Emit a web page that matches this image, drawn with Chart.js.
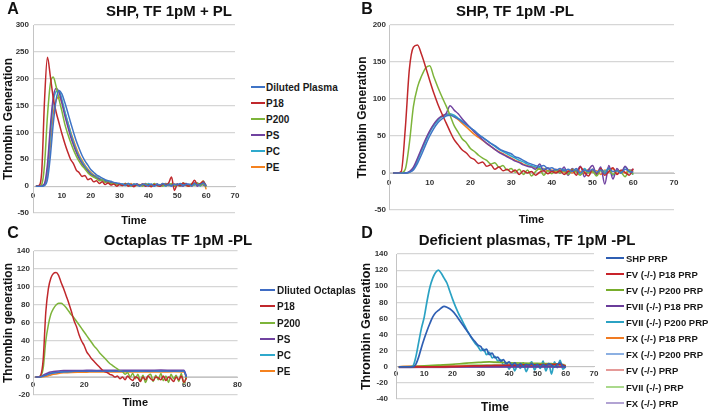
<!DOCTYPE html>
<html>
<head>
<meta charset="utf-8">
<script src="https://cdn.jsdelivr.net/npm/chart.js@4.4.1/dist/chart.umd.min.js"></script>
<style>
  body { margin: 0; background: #fff; font-family: "Liberation Sans", Arial, sans-serif; }
  #fig { position: relative; width: 708px; height: 413px; overflow: hidden; }
  canvas { position: absolute; }
  .letter { position: absolute; font-weight: bold; font-size: 16px; color: #111; transform: translate(-50%, -50%); }
  .ttl { position: absolute; font-weight: bold; font-size: 15px; color: #111; white-space: nowrap; transform: translate(-50%, -50%); z-index: 2; }
  .leg { position: absolute; left: 0; top: 0; z-index: 2; }
  .leg .ln { position: absolute; height: 2px; }
  .leg .tx { position: absolute; font-weight: bold; color: #1a1a1a; white-space: nowrap; transform: translateY(-50%); }
</style>
</head>
<body>
<div id="fig">
  <canvas id="chartA" width="245" height="228" style="left:0;top:0"></canvas>
  <canvas id="chartB" width="330" height="228" style="left:354px;top:0"></canvas>
  <canvas id="chartC" width="245" height="185" style="left:0;top:228px"></canvas>
  <canvas id="chartD" width="250" height="185" style="left:354px;top:228px"></canvas>

  <div class="letter" style="left:13px;top:9px">A</div>
  <div class="letter" style="left:367px;top:9px">B</div>
  <div class="letter" style="left:13px;top:233px">C</div>
  <div class="letter" style="left:367px;top:233px">D</div>

  <div class="ttl" style="left:169px;top:10px">SHP, TF 1pM + PL</div>
  <div class="ttl" style="left:515px;top:10px">SHP, TF 1pM -PL</div>
  <div class="ttl" style="left:178px;top:239px">Octaplas TF 1pM -PL</div>
  <div class="ttl" style="left:527px;top:239px">Deficient plasmas, TF 1pM -PL</div>

  <div id="legA" class="leg"></div>
  <div id="legC" class="leg"></div>
  <div id="legD" class="leg"></div>
</div>

<script>
Chart.defaults.font.family = '"Liberation Sans", Arial, sans-serif';

// time in minutes
const minutes = [1, 2, 3, 4, 5, 6, 7, 8, 9, 10, 11, 12, 13, 14, 15, 16, 17, 18, 19, 20,
  21, 22, 23, 24, 25, 26, 27, 28, 29, 30, 31, 32, 33, 34, 35, 36, 37, 38, 39, 40,
  41, 42, 43, 44, 45, 46, 47, 48, 49, 50, 51, 52, 53, 54, 55, 56, 57, 58, 59, 60];
const minutesC = [1, 2, 3, 4, 5, 6, 7, 8, 10, 12, 15, 18, 21, 25, 30, 35, 40, 45, 50, 55, 59, 60];
const minutesD = [1, 5, 10, 15, 20, 25, 30, 33, 35, 40, 45, 50, 55, 58, 60];

// ---- A: SHP, TF 1pM + PL
const labelsA = ["Diluted Plasma", "P18", "P200", "PS", "PC", "PE"];
const colorsA = ['#3f74c6', '#c0282c', '#7db43a', '#7042a0', '#2fa9cc', '#f5821f'];
const aDiluted = [0, 0, 0, 1, 12, 55, 115, 160, 178, 172, 156, 138, 119, 101, 84, 70, 57, 47, 39, 31,
  26, 21, 18, 15, 12, 10, 9, 7, 6, 5, 4, 2, 5, 1, 4, 3, 0, 4, 2, 1,
  4, 0, 3, 2, 5, 1, 3, 0, 4, 2, 5, 1, 3, 4, 0, 5, 2, 3, 6, 0];
const aP18 = [0, 1, 25, 160, 240, 205, 165, 138, 118, 98, 80, 64, 50, 42, 30, 25, 18, 20, 12, 14,
  8, 10, 5, 8, 3, 6, 2, 4, 0, 3, 1, 4, 0, 2, -1, 3, 1, 4, 0, 2,
  -1, 3, 1, 0, 4, 2, 6, 17, -8, 3, 1, 6, 2, 0, 4, 11, 2, 5, 8, 0];
const aP200 = [0, 0, 3, 40, 130, 190, 203, 186, 162, 140, 116, 98, 82, 68, 56, 46, 38, 32, 25, 20,
  17, 14, 10, 12, 7, 8, 4, 6, 3, 4, 1, 5, 2, 0, 4, 1, 3, 0, 4, 2,
  0, 5, 1, 3, 0, 4, 2, 5, 0, 3, 1, 6, 2, 0, 5, 2, 6, 1, 4, -2];
const aPS = [0, 0, 1, 5, 40, 110, 165, 182, 175, 155, 132, 112, 93, 77, 63, 51, 42, 34, 28, 22,
  19, 15, 13, 10, 9, 7, 6, 6, 4, 4, 2, 5, 1, 3, 0, 4, 2, 1, 5, 0,
  3, 1, 4, 0, 2, 5, 1, 3, 0, 4, 2, 0, 5, 1, 3, 6, 0, 4, 2, 1];
const aPC = [0, 0, 0, 3, 30, 95, 155, 176, 178, 162, 140, 120, 100, 82, 67, 55, 45, 37, 30, 24,
  20, 17, 14, 12, 9, 8, 6, 5, 5, 3, 4, 1, 5, 2, 0, 4, 1, 3, 0, 5,
  2, 0, 4, 1, 3, 0, 5, 2, 1, 4, 0, 3, 5, 1, 4, 2, 6, 0, 9, 1];
const aPE = [0, 0, 0, 2, 20, 75, 135, 160, 166, 156, 138, 120, 102, 86, 71, 58, 48, 39, 32, 26,
  21, 18, 14, 12, 10, 8, 7, 6, 4, 5, 2, 4, 1, 5, 0, 3, 2, 4, 1, 3,
  0, 4, 2, 1, 5, 0, 3, 1, 4, 2, 0, 5, 1, 3, 0, 6, 2, 4, 10, -6];

// ---- B: SHP, TF 1pM -PL
const bDiluted = [0, 0, 0, 0, 1, 4, 13, 25, 38, 50, 60, 68, 73, 77, 78, 76, 73, 69, 65, 61,
  57, 52, 48, 44, 40, 37, 33, 30, 28, 26, 22, 20, 17, 14, 12, 10, 9, 10, 6, 7,
  4, 6, 3, 5, 2, 6, 0, 4, 2, 5, 1, 4, -1, 6, 2, 3, 0, 5, 2, 1];
const bP18 = [0, 0, 2, 60, 140, 170, 173, 160, 143, 125, 108, 93, 80, 68, 56, 45, 38, 31, 27, 21,
  18, 13, 15, 9, 11, 5, 8, 3, 5, 1, 4, -2, 3, 0, 2, -3, 1, 3, -1, 2,
  0, 3, -2, 2, 4, -3, 8, 1, -4, 5, 0, 6, -3, 2, 7, -2, 4, 1, -3, 6];
const bP200 = [0, 0, 0, 5, 40, 90, 116, 131, 142, 145, 130, 116, 103, 91, 78, 64, 55, 46, 41, 33,
  29, 24, 20, 17, 12, 14, 8, 10, 4, 6, 1, 5, -2, 4, -4, 2, 6, -3, 3, -1,
  4, 0, 3, -2, 5, 1, -3, 4, 0, 2, -4, 3, 0, 5, -2, 3, 1, -5, 4, -2];
const bPS = [0, 0, 0, 0, 2, 8, 20, 33, 46, 57, 66, 73, 77, 80, 91, 85, 80, 73, 67, 61,
  55, 50, 45, 40, 36, 32, 28, 25, 22, 19, 16, 14, 11, 9, 8, 5, 12, 3, 7, 2,
  5, 0, 8, -3, 6, 2, 9, -5, 4, 10, -2, 8, -15, 10, -8, 6, 0, 9, 3, 5];
const bPC = [0, 0, 0, 0, 1, 6, 17, 30, 43, 55, 64, 71, 76, 79, 80, 78, 74, 70, 66, 61,
  57, 52, 48, 44, 40, 36, 32, 29, 26, 23, 20, 17, 15, 12, 10, 8, 7, 5, 6, 3,
  4, 2, 5, 0, 3, 4, -2, 6, 1, 3, -1, 5, 2, 7, -3, 4, 1, 8, 2, -2];
const bPE = [0, 0, 0, 0, 1, 6, 18, 31, 44, 56, 65, 72, 77, 79, 79, 76, 72, 67, 62, 57,
  52, 48, 44, 40, 36, 32, 29, 26, 23, 20, 17, 15, 12, 10, 9, 7, 5, 6, 3, 4,
  2, 5, 1, 3, 0, 4, 2, -1, 5, 1, 3, -2, 4, 1, 6, -1, 3, 0, 4, 2];

// ---- C: Octaplas TF 1pM -PL
const labelsC = ["Dliuted Octaplas", "P18", "P200", "PS", "PC", "PE"];
const colorsC = ['#3f6cc4', '#c0282c', '#7db43a', '#7042a0', '#2fa9cc', '#f5821f'];
const cP18 = [0, 0, 2, 20, 72, 98, 110, 115, 116, 113, 105, 98, 90, 82, 73, 63, 56, 47, 40, 35,
  28, 24, 20, 17, 14, 11, 8, 6, 5, 3, 2, 0, 1, -2, 0, -3, 1, -2, -4, 0,
  -1, -5, 0, -3, 1, -2, -4, 0, -1, -3, 1, -4, 0, -2, -5, 0, -3, 1, -6, -1];
const cP200 = [0, 0, 1, 10, 40, 58, 70, 76, 80, 82, 82, 80, 77, 73, 69, 66, 62, 58, 54, 50,
  46, 42, 38, 34, 31, 27, 24, 21, 18, 15, 13, 11, 9, 7, 6, 3, 5, 0, 4, -2,
  3, -4, 2, -6, 1, 3, -5, 2, -3, 4, -4, 1, -6, 3, -2, 2, -5, 4, -7, 0];
const cDiluted = [0, 0, 0.3, 1, 2, 3, 4, 4.5, 5.2, 5.8, 6.2, 6.3, 6.5, 6.3, 6.6, 6.4, 6.6, 6.5, 6.7, 6.5, 6.6, 0];
const cPS = [0, 0, 0.5, 2, 3.5, 4.8, 5.6, 6.2, 6.8, 7.1, 7.3, 7.2, 7.5, 7.3, 7.6, 7.4, 7.6, 7.5, 7.7, 7.5, 7.6, 1];
const cPC = [0, 0, 0.3, 1.2, 2.3, 3.3, 4.2, 4.8, 5.4, 5.9, 6.2, 6.4, 6.3, 6.5, 6.4, 6.6, 6.4, 6.6, 6.5, 6.7, 6.5, 0];
const cPE = [0, 0, 0, 0.3, 0.8, 1.5, 2.3, 3, 4, 4.6, 5.1, 5.3, 5.4, 5.5, 5.5, 5.6, 5.5, 5.6, 5.6, 5.7, 5.6, -1];

// ---- D: Deficient plasmas, TF 1pM -PL
const labelsD = ["SHP PRP", "FV (-/-) P18 PRP", "FV (-/-) P200 PRP", "FVII (-/-) P18 PRP", "FVII (-/-) P200 PRP",
  "FX (-/-) P18 PRP", "FX (-/-) P200 PRP", "FV (-/-) PRP", "FVII (-/-) PRP", "FX (-/-) PRP"];
const colorsD = ['#2f5fb3', '#c8232a', '#78ad2c', '#6a3c9a', '#2ba2c3', '#f07b22', '#8cb0e2', '#e59a98', '#aad98c', '#b2a3d3'];
const dSHP = [0, 0, 0, 0, 0, 0, 3, 12, 24, 35, 45, 54, 62, 67, 70, 73, 75, 74, 72, 69,
  65, 60, 55, 50, 45, 40, 35, 31, 27, 25, 20, 22, 15, 17, 11, 12, 7, 9, 4, 6,
  2, 5, 1, 4, 0, 3, 2, 4, 1, 3, 0, 3, 1, 4, 2, 0, 3, 5, 1, 0];
const dFVIIp200 = [0, 0, 0, 0, 0, 1, 12, 30, 48, 62, 82, 99, 110, 117, 120, 116, 110, 104, 94, 84,
  75, 67, 60, 53, 46, 40, 34, 29, 25, 20, 22, 15, 18, 11, 13, 7, 9, 2, 5, -3,
  4, -5, 3, -2, 5, -6, 2, 6, -4, 3, -2, 7, -5, 4, -9, 6, -1, 8, -3, 0];
const dFVp18 = [0, 0, 0, 0, 0.3, 0.8, 1.2, 1.5, 1.7, 2, 2.3, 2.5, 2.8, 3, 1];
const dFVp200 = [0, 0, 1, 2, 3, 4.5, 5.5, 6, 5.8, 5, 4.5, 4.2, 3.8, 3.5, 0.5];
const dFVIIp18 = [0, -0.3, -0.3, -0.3, -0.2, -0.2, 0, 0, 0, 0, 0, 0, 0, 0, 0];
const dFXp18 = [0, 0.5, 0.5, 0.6, 0.6, 0.7, 0.8, 0.8, 0.9, 1, 1, 1, 1.1, 1.1, 0.5];
const dFXp200 = [0, 0, 0.2, 0.3, 0.3, 0.4, 0.5, 0.5, 0.5, 0.6, 0.6, 0.6, 0.7, 0.7, 0.3];
const dFV = [0, 0.3, 0.5, 0.7, 0.8, 1, 1.2, 1.3, 1.3, 1.5, 1.6, 1.7, 1.8, 1.8, 1];
const dFVII = [0, 0.5, 1, 1.5, 1.8, 2, 2.3, 2.5, 2.6, 2.8, 3, 3.2, 3.4, 3.5, 2];
const dFX = [-1, -1, -0.8, -0.7, -0.6, -0.5, -0.4, -0.4, -0.3, -0.3, -0.2, -0.2, -0.2, -0.2, -0.5];


function lineSet(label, color, xs, ys, width) {
  return {
    label: label,
    borderColor: color,
    backgroundColor: color,
    borderWidth: width || 1.5,
    pointRadius: 0,
    cubicInterpolationMode: 'monotone',
    data: xs.map((x, i) => ({ x: x, y: ys[i] }))
  };
}

function makeChart(id, datasets, ax) {
  return new Chart(document.getElementById(id), {
    type: 'line',
    data: { datasets: datasets },
    options: {
      responsive: false,
      animation: false,
      layout: { padding: ax.pad },
      plugins: { legend: { display: false }, tooltip: { enabled: false } },
      scales: {
        x: {
          type: 'linear',
          min: ax.xMin, max: ax.xMax,
          position: { y: 0 }, // axis crosses at zero like the original
          grid: { display: false, drawTicks: false },
          border: { color: '#c4c4c4', width: 1 },
          ticks: { stepSize: ax.xStep, padding: ax.xPad, maxRotation: 0, color: '#333', font: { size: 8, weight: 'bold' } },
          title: { display: true, text: 'Time', color: '#111', padding: 0, font: { size: ax.xTitleSize, weight: 'bold' } },
          afterFit: s => { s.height = ax.xH; }
        },
        y: {
          min: ax.yMin, max: ax.yMax,
          grid: { color: '#d6d6d6', lineWidth: 1.2, drawTicks: false },
          border: { color: '#c4c4c4', width: 1 },
          ticks: { stepSize: ax.yStep, padding: ax.yPad, color: '#333', font: { size: 8, weight: 'bold' } },
          title: { display: true, text: ax.yTitle, color: '#111', padding: { top: ax.yTitlePad, bottom: 0 }, font: { size: ax.yTitleSize, weight: 'bold' } },
          afterFit: s => { s.width = ax.yW; }
        }
      }
    }
  });
}

function buildLegend(id, labels, colors, o) {
  const el = document.getElementById(id);
  labels.forEach((lab, i) => {
    const y = o.top + i * o.step;
    const ln = document.createElement('div');
    ln.className = 'ln';
    ln.style.left = o.lineX + 'px';
    ln.style.width = o.lineW + 'px';
    ln.style.top = (y - 1) + 'px';
    ln.style.background = colors[i];
    el.appendChild(ln);
    const tx = document.createElement('div');
    tx.className = 'tx';
    tx.style.left = o.textX + 'px';
    tx.style.top = y + 'px';
    tx.style.fontSize = o.size + 'px';
    tx.textContent = lab;
    el.appendChild(tx);
  });
}

// A
makeChart('chartA', [
  lineSet(labelsA[0], colorsA[0], minutes, aDiluted),
  lineSet(labelsA[1], colorsA[1], minutes, aP18),
  lineSet(labelsA[2], colorsA[2], minutes, aP200),
  lineSet(labelsA[3], colorsA[3], minutes, aPS),
  lineSet(labelsA[4], colorsA[4], minutes, aPC),
  lineSet(labelsA[5], colorsA[5], minutes, aPE)
], { pad: { left: 0, top: 25, right: 10, bottom: 15 }, xMin: 0, xMax: 70, xStep: 10, xPad: 5, xH: 41.6, xTitleSize: 11,
     yMin: -50, yMax: 300, yStep: 50, yPad: 4, yW: 33, yTitle: 'Thrombin Generation', yTitleSize: 12, yTitlePad: 1 });

// B
makeChart('chartB', [
  lineSet(labelsA[0], colorsA[0], minutes, bDiluted),
  lineSet(labelsA[1], colorsA[1], minutes, bP18),
  lineSet(labelsA[2], colorsA[2], minutes, bP200),
  lineSet(labelsA[3], colorsA[3], minutes, bPS),
  lineSet(labelsA[4], colorsA[4], minutes, bPC),
  lineSet(labelsA[5], colorsA[5], minutes, bPE)
], { pad: { left: 0, top: 25, right: 10, bottom: 18 }, xMin: 0, xMax: 70, xStep: 10, xPad: 5, xH: 53.6, xTitleSize: 11,
     yMin: -50, yMax: 200, yStep: 50, yPad: 3, yW: 35, yTitle: 'Thrombin Generation', yTitleSize: 12, yTitlePad: 1 });

// C
makeChart('chartC', [
  lineSet(labelsC[0], colorsC[0], minutesC, cDiluted),
  lineSet(labelsC[1], colorsC[1], minutes, cP18),
  lineSet(labelsC[2], colorsC[2], minutes, cP200),
  lineSet(labelsC[3], colorsC[3], minutesC, cPS),
  lineSet(labelsC[4], colorsC[4], minutesC, cPC),
  lineSet(labelsC[5], colorsC[5], minutesC, cPE)
], { pad: { left: 0, top: 23, right: 7, bottom: 18 }, xMin: 0, xMax: 80, xStep: 20, xPad: 3, xH: 32.3, xTitleSize: 11,
     yMin: -20, yMax: 140, yStep: 20, yPad: 3, yW: 33, yTitle: 'Thrombin generation', yTitleSize: 12, yTitlePad: 1 });

// D
makeChart('chartD', [
  lineSet(labelsD[0], colorsD[0], minutes, dSHP, 1.7),
  lineSet(labelsD[1], colorsD[1], minutesD, dFVp18, 1.7),
  lineSet(labelsD[2], colorsD[2], minutesD, dFVp200, 1.7),
  lineSet(labelsD[3], colorsD[3], minutesD, dFVIIp18, 1.7),
  lineSet(labelsD[4], colorsD[4], minutes, dFVIIp200, 1.7),
  lineSet(labelsD[5], colorsD[5], minutesD, dFXp18, 1.7),
  lineSet(labelsD[6], colorsD[6], minutesD, dFXp200, 1.7),
  lineSet(labelsD[7], colorsD[7], minutesD, dFV, 1.7),
  lineSet(labelsD[8], colorsD[8], minutesD, dFVII, 1.7),
  lineSet(labelsD[9], colorsD[9], minutesD, dFX, 1.7)
], { pad: { left: 0, top: 26, right: 10, bottom: 14 }, xMin: 0, xMax: 70, xStep: 10, xPad: 2, xH: 47.9, xTitleSize: 12,
     yMin: -40, yMax: 140, yStep: 20, yPad: 8, yW: 42, yTitle: 'Thrombin Generation', yTitleSize: 12.5, yTitlePad: 5 });

buildLegend('legA', labelsA, colorsA, { top: 86.7, step: 16, lineX: 251, lineW: 14, textX: 266, size: 10 });
buildLegend('legC', labelsC, colorsC, { top: 290.3, step: 16.1, lineX: 260, lineW: 15, textX: 277, size: 10 });
buildLegend('legD', labelsD, colorsD, { top: 257.7, step: 16.1, lineX: 606, lineW: 18, textX: 626, size: 9.5 });
</script>
</body>
</html>
